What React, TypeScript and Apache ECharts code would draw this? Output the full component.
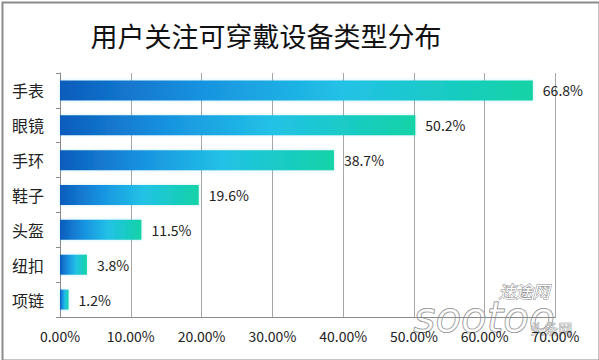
import React, { useEffect, useRef } from "react";
import * as echarts from "echarts";

const categories = ["手表", "眼镜", "手环", "鞋子", "头盔", "纽扣", "项链"];
const values = [66.8, 50.2, 38.7, 19.6, 11.5, 3.8, 1.2];
const xTicks = [0, 10, 20, 30, 40, 50, 60, 70];
const titleText = "用户关注可穿戴设备类型分布";

export default function App() {
  const ref = useRef<HTMLDivElement>(null);
  useEffect(() => {
    if (!ref.current) return;
    const chart = echarts.init(ref.current, null, { renderer: "svg" });
    const font = "'Noto Sans CJK SC', 'Noto Sans', sans-serif";
    chart.setOption({
      animation: false,
      backgroundColor: "#ffffff",
      title: {
        text: titleText,
        left: 261,
        top: 17,
        textAlign: "center",
        textStyle: { fontSize: 27, fontWeight: "normal", color: "#111", fontFamily: font },
      },
      grid: { left: 60, right: 43.5, top: 73, bottom: 43 },
      xAxis: {
        type: "value",
        min: xTicks[0],
        max: xTicks[xTicks.length - 1],
        interval: 10,
        axisLine: { show: true, lineStyle: { color: "#8a8a8a", width: 1 } },
        axisTick: { show: false },
        splitLine: { show: true, lineStyle: { color: "#a6a6a6", width: 1 } },
        axisLabel: {
          margin: 12,
          fontSize: 14,
          color: "#222",
          fontFamily: font,
          formatter: (v: number) => v.toFixed(2) + "%",
        },
      },
      yAxis: {
        type: "category",
        data: categories,
        inverse: true,
        axisLine: { show: true, lineStyle: { color: "#8a8a8a", width: 1 } },
        axisTick: { show: true, length: 4, lineStyle: { color: "#8a8a8a" } },
        axisLabel: { margin: 16, fontSize: 16, color: "#222", fontFamily: font },
      },
      series: [
        {
          type: "bar",
          data: values,
          barWidth: 20,
          itemStyle: {
            color: new echarts.graphic.LinearGradient(0, 0, 1, 0, [
              { offset: 0, color: "#0d5cbc" },
              { offset: 0.3, color: "#1893e0" },
              { offset: 0.6, color: "#22c2e6" },
              { offset: 1, color: "#12d3a6" },
            ]),
            shadowColor: "rgba(60,200,230,0.35)",
            shadowBlur: 3,
          },
          label: {
            show: true,
            position: "right",
            distance: 10,
            fontSize: 14,
            color: "#222",
            fontFamily: font,
            formatter: (p: any) => p.value.toFixed(1) + "%",
          },
        },
      ],
      graphic: [
        {
          type: "rect",
          left: 0,
          top: 0,
          shape: { width: 597, height: 358 },
          style: { fill: "none", stroke: "#8c8c8c", lineWidth: 2 },
          silent: true,
        },
        {
          type: "text",
          left: 498,
          top: 281,
          style: {
            text: "速途网",
            fontSize: 17,
            fontStyle: "italic",
            fontFamily: font,
            fill: "#ffffff",
            stroke: "#8a8a8a",
            lineWidth: 1,
          },
          silent: true,
        },
        {
          type: "text",
          left: 413,
          top: 296,
          style: {
            text: "sootoo",
            fontSize: 42,
            fontStyle: "italic",
            fontFamily: "'DejaVu Sans', sans-serif",
            fill: "rgba(255,255,255,0.6)",
            stroke: "#7a7a7a",
            lineWidth: 1,
          },
          silent: true,
        },
        {
          type: "text",
          left: 530,
          top: 321,
          style: {
            text: "头条网",
            fontSize: 14,
            fontFamily: font,
            fill: "rgba(255,255,255,0.3)",
            stroke: "#9a9a9a",
            lineWidth: 0.6,
          },
          silent: true,
        },
      ],
    });
    return () => chart.dispose();
  }, []);
  return (
    <div
      ref={ref}
      style={{ position: "absolute", left: 0, top: 0, width: 599, height: 360 }}
    />
  );
}
